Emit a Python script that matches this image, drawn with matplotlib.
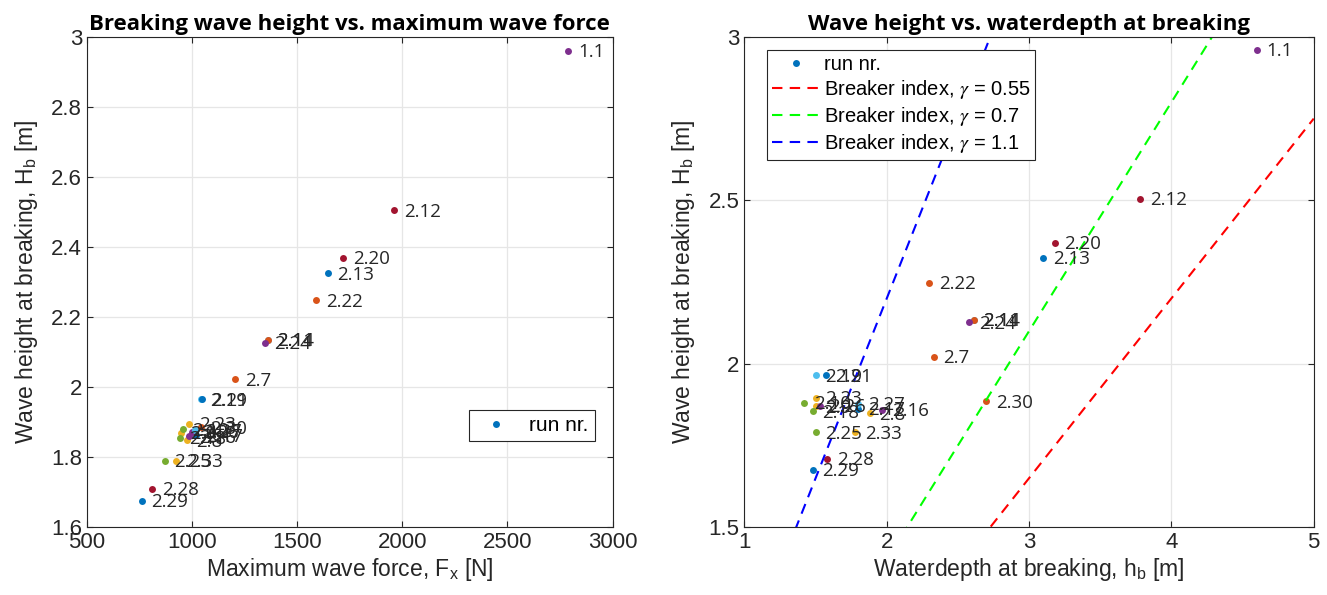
import numpy as np
import matplotlib.pyplot as plt
from matplotlib.ticker import FormatStrFormatter

# MATLAB default colour order
C = {'blue': (0, 0.447, 0.741), 'orange': (0.85, 0.325, 0.098),
     'yellow': (0.929, 0.694, 0.125), 'purple': (0.494, 0.184, 0.556),
     'green': (0.466, 0.674, 0.188), 'lblue': (0.301, 0.745, 0.933),
     'red': (0.635, 0.078, 0.184)}

runs = ['1.1', '2.7', '2.8', '2.9', '2.10', '2.11', '2.12', '2.13', '2.14', '2.16',
        '2.17', '2.18', '2.19', '2.20', '2.21', '2.22', '2.23', '2.24', '2.25', '2.26',
        '2.27', '2.28', '2.29', '2.30', '2.33']
Fx = [2790, 1205, 975, 945, 955, 1360, 1960, 1645, 1360, 985,
      1020, 940, 1040, 1720, 1045, 1590, 985, 1345, 870, 1000,
      1015, 810, 760, 1040, 925]
Hb = [2.96, 2.022, 1.848, 1.870, 1.880, 2.135, 2.505, 2.325, 2.135, 1.860,
      1.862, 1.855, 1.965, 2.37, 1.965, 2.248, 1.895, 2.127, 1.790, 1.872,
      1.877, 1.710, 1.675, 1.885, 1.790]
hb = [4.60, 2.33, 1.88, 1.50, 1.42, 2.61, 3.78, 3.10, 2.61, 1.97,
      1.80, 1.48, 1.50, 3.18, 1.57, 2.30, 1.50, 2.58, 1.50, 1.53,
      1.80, 1.58, 1.48, 2.70, 1.78]
colors = ['purple', 'orange', 'yellow', 'yellow', 'green', 'lblue', 'red', 'blue', 'orange', 'purple',
          'blue', 'green', 'lblue', 'red', 'blue', 'orange', 'yellow', 'purple', 'green', 'purple',
          'lblue', 'red', 'blue', 'orange', 'yellow']

gammas = [0.55, 0.7, 1.1]
gamma_colors = ['r', 'lime', 'b']

plt.rcParams['font.family'] = ['Liberation Sans', 'DejaVu Sans']
plt.rcParams['mathtext.default'] = 'regular'
plt.rcParams['mathtext.fontset'] = 'stix'
AX = (0.15, 0.15, 0.15)
LBL = 'Open Sans'

fig = plt.figure(figsize=(13.27, 5.95), dpi=100)
ax1 = fig.add_axes([0.0656, 0.114, 0.396, 0.824])
ax2 = fig.add_axes([0.561, 0.114, 0.429, 0.824])


def style(ax):
    ax.grid(True, color='#e6e6e6', linewidth=0.9)
    ax.set_axisbelow(True)
    for s in ax.spines.values():
        s.set_color(AX)
        s.set_linewidth(0.8)
    ax.tick_params(direction='in', length=4, labelsize=16, colors=AX,
                   top=True, right=True, labeltop=False, labelright=False)
    ax.yaxis.set_major_formatter(FormatStrFormatter('%g'))


# Left: wave height vs force
blue_handle = None
for r, x, y, c in zip(runs, Fx, Hb, colors):
    h, = ax1.plot(x, y, 'o', color=C[c], markersize=5, markeredgewidth=0)
    if c == 'blue' and blue_handle is None:
        blue_handle = h
    ax1.annotate(r, (x, y), xytext=(7, -1), textcoords='offset points',
                 va='center', ha='left', fontsize=13.5, family=LBL, color='#262626')
ax1.set_xlim(500, 3000)
ax1.set_ylim(1.6, 3)
ax1.set_xticks([500, 1000, 1500, 2000, 2500, 3000])
ax1.set_yticks(np.arange(1.6, 3.01, 0.2))
style(ax1)
ax1.set_xlabel('Maximum wave force, F$_x$ [N]', fontsize=16.5, color=AX, labelpad=2)
ax1.set_ylabel('Wave height at breaking, H$_b$ [m]', fontsize=16.5, color=AX, labelpad=8)
ax1.set_title('Breaking wave height vs. maximum wave force', fontsize=16,
              fontweight='bold', family=LBL, pad=5)
leg1 = ax1.legend([blue_handle], ['run nr.'], loc='center right',
                  bbox_to_anchor=(0.966, 0.207), borderaxespad=0, fontsize=15,
                  fancybox=False, framealpha=1, edgecolor=AX, handlelength=2.0,
                  handletextpad=0.6, borderpad=0.3)
leg1.get_frame().set_linewidth(0.8)

# Right: wave height vs water depth
blue_handle2 = None
for r, x, y, c in zip(runs, hb, Hb, colors):
    h, = ax2.plot(x, y, 'o', color=C[c], markersize=5, markeredgewidth=0)
    if c == 'blue' and blue_handle2 is None:
        blue_handle2 = h
    ax2.annotate(r, (x, y), xytext=(7, -1), textcoords='offset points',
                 va='center', ha='left', fontsize=13.5, family=LBL, color='#262626')
depth = np.array([0, 5])
line_handles = []
for g, gc in zip(gammas, gamma_colors):
    lh, = ax2.plot(depth, g * depth, '--', color=gc, linewidth=1.5, dashes=(5, 3.5))
    line_handles.append(lh)
ax2.set_xlim(1, 5)
ax2.set_ylim(1.5, 3)
ax2.set_xticks([1, 2, 3, 4, 5])
ax2.set_yticks([1.5, 2, 2.5, 3])
style(ax2)
ax2.set_xlabel('Waterdepth at breaking, h$_b$ [m]', fontsize=16.5, color=AX, labelpad=2)
ax2.set_ylabel('Wave height at breaking, H$_b$ [m]', fontsize=16.5, color=AX, labelpad=8)
ax2.set_title('Wave height vs. waterdepth at breaking', fontsize=16,
              fontweight='bold', family=LBL, pad=5)
labels2 = ['run nr.'] + [f'Breaker index, $\\mathit{{\\gamma}}$ = {g:g}' for g in gammas]
leg2 = ax2.legend([blue_handle2] + line_handles, labels2, loc='upper left',
                  bbox_to_anchor=(0.04, 0.973), borderaxespad=0, fontsize=14.5,
                  fancybox=False, framealpha=1, edgecolor=AX, handlelength=2.4,
                  borderpad=0.25, labelspacing=0.2, handletextpad=0.15)
leg2.get_frame().set_linewidth(0.8)

fig.savefig('out.png', dpi=100)
